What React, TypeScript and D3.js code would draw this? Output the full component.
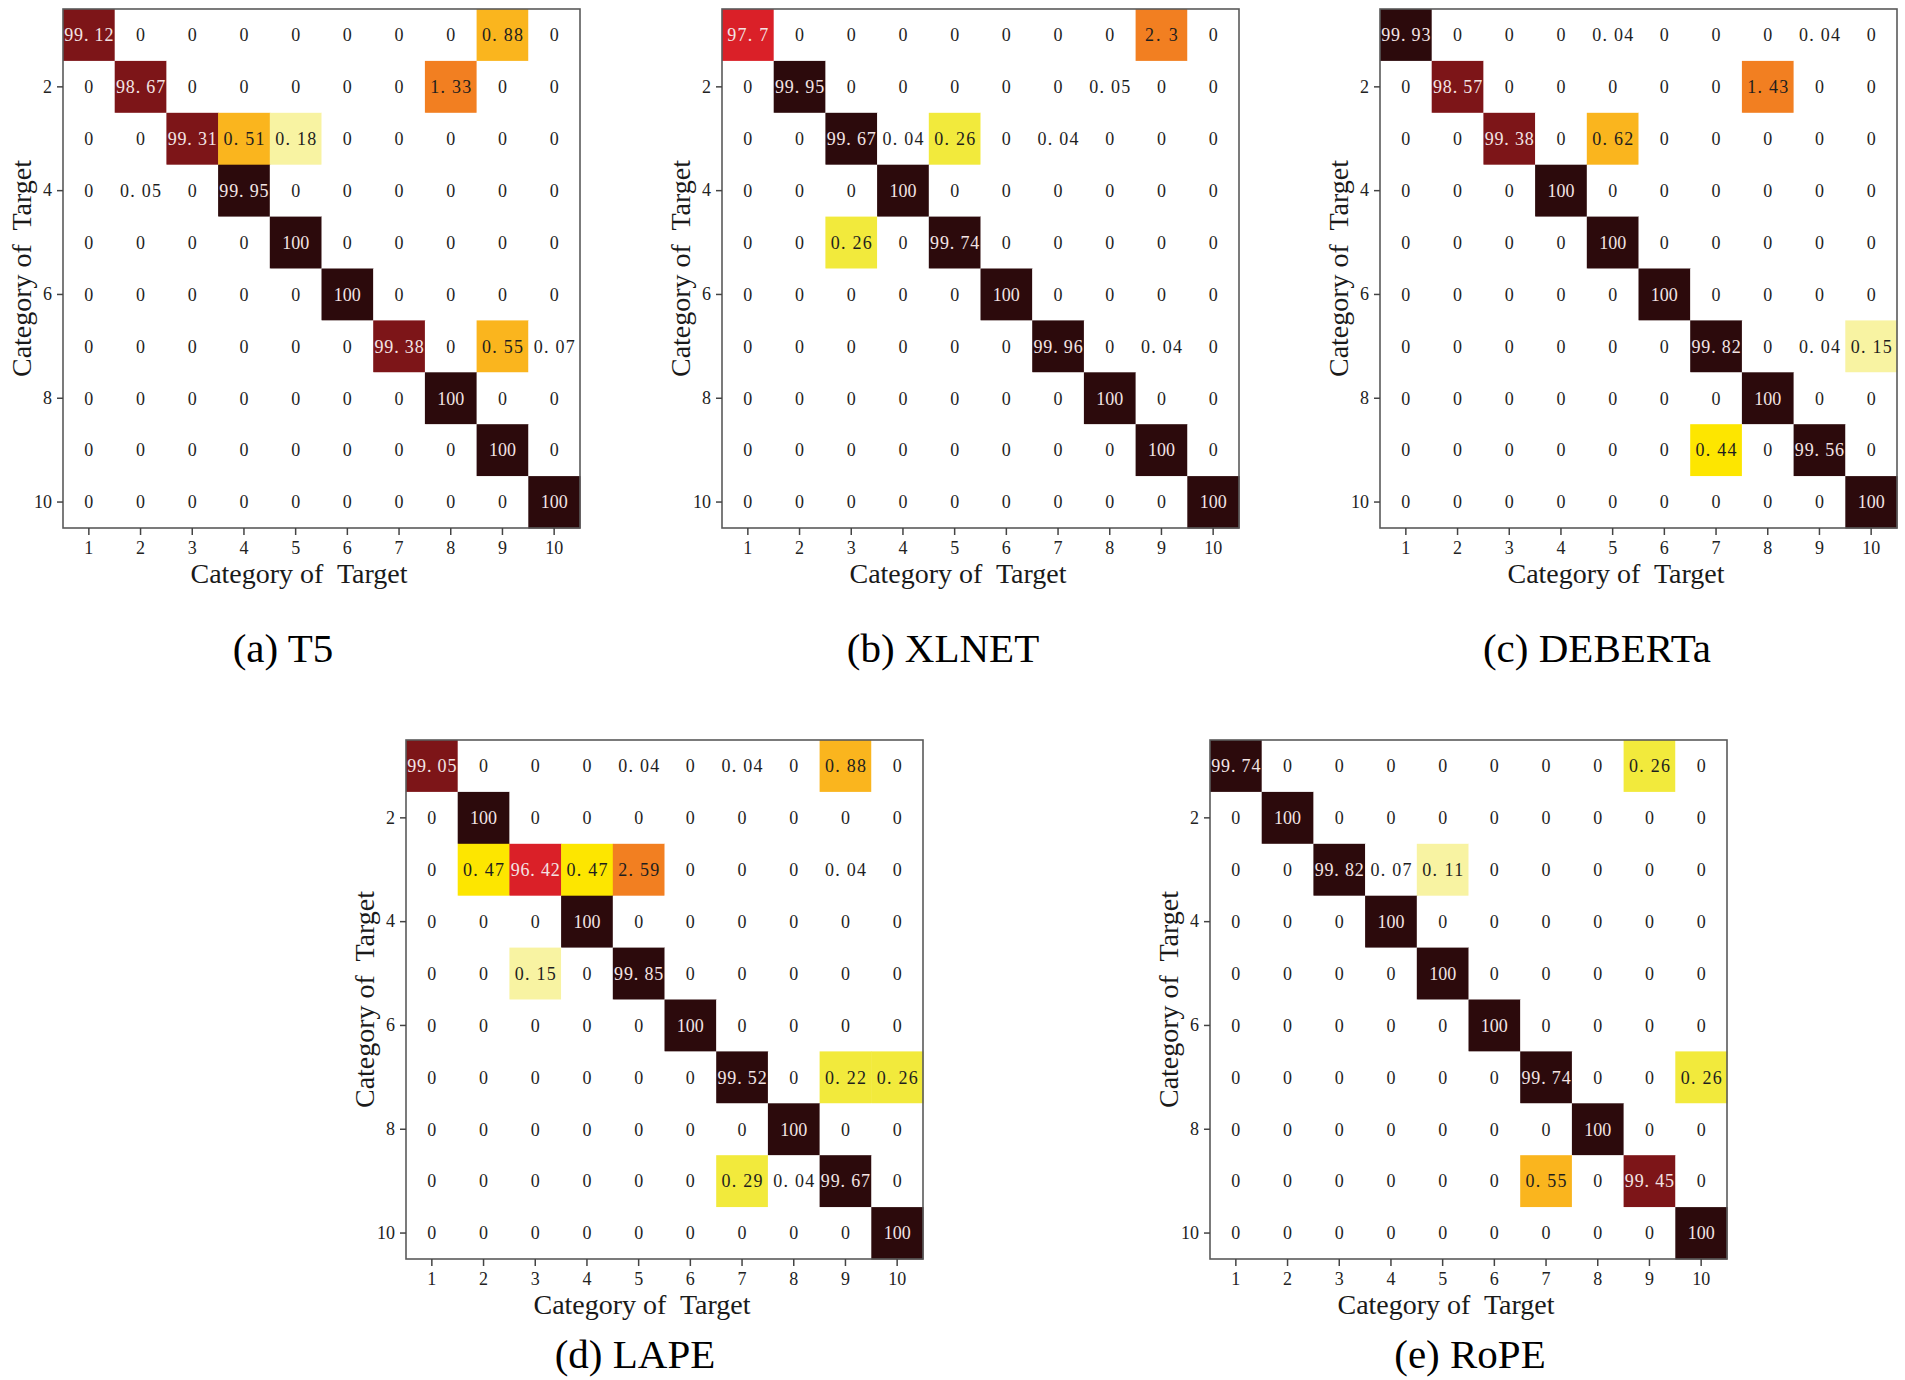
import React, { useEffect, useRef } from 'react';
import * as d3 from 'd3';

// categories / ticks
const categories = [1, 2, 3, 4, 5, 6, 7, 8, 9, 10];
const yTickValues = [2, 4, 6, 8, 10];
const xTitle = 'Category of  Target';
const yTitle = 'Category of  Target';

// confusion matrices (rows = true category, cols = predicted), %
const t5 = [
  [99.12, 0, 0, 0, 0, 0, 0, 0, 0.88, 0],
  [0, 98.67, 0, 0, 0, 0, 0, 1.33, 0, 0],
  [0, 0, 99.31, 0.51, 0.18, 0, 0, 0, 0, 0],
  [0, 0.05, 0, 99.95, 0, 0, 0, 0, 0, 0],
  [0, 0, 0, 0, 100, 0, 0, 0, 0, 0],
  [0, 0, 0, 0, 0, 100, 0, 0, 0, 0],
  [0, 0, 0, 0, 0, 0, 99.38, 0, 0.55, 0.07],
  [0, 0, 0, 0, 0, 0, 0, 100, 0, 0],
  [0, 0, 0, 0, 0, 0, 0, 0, 100, 0],
  [0, 0, 0, 0, 0, 0, 0, 0, 0, 100],
];

const xlnet = [
  [97.7, 0, 0, 0, 0, 0, 0, 0, 2.3, 0],
  [0, 99.95, 0, 0, 0, 0, 0, 0.05, 0, 0],
  [0, 0, 99.67, 0.04, 0.26, 0, 0.04, 0, 0, 0],
  [0, 0, 0, 100, 0, 0, 0, 0, 0, 0],
  [0, 0, 0.26, 0, 99.74, 0, 0, 0, 0, 0],
  [0, 0, 0, 0, 0, 100, 0, 0, 0, 0],
  [0, 0, 0, 0, 0, 0, 99.96, 0, 0.04, 0],
  [0, 0, 0, 0, 0, 0, 0, 100, 0, 0],
  [0, 0, 0, 0, 0, 0, 0, 0, 100, 0],
  [0, 0, 0, 0, 0, 0, 0, 0, 0, 100],
];

const deberta = [
  [99.93, 0, 0, 0, 0.04, 0, 0, 0, 0.04, 0],
  [0, 98.57, 0, 0, 0, 0, 0, 1.43, 0, 0],
  [0, 0, 99.38, 0, 0.62, 0, 0, 0, 0, 0],
  [0, 0, 0, 100, 0, 0, 0, 0, 0, 0],
  [0, 0, 0, 0, 100, 0, 0, 0, 0, 0],
  [0, 0, 0, 0, 0, 100, 0, 0, 0, 0],
  [0, 0, 0, 0, 0, 0, 99.82, 0, 0.04, 0.15],
  [0, 0, 0, 0, 0, 0, 0, 100, 0, 0],
  [0, 0, 0, 0, 0, 0, 0.44, 0, 99.56, 0],
  [0, 0, 0, 0, 0, 0, 0, 0, 0, 100],
];

const lape = [
  [99.05, 0, 0, 0, 0.04, 0, 0.04, 0, 0.88, 0],
  [0, 100, 0, 0, 0, 0, 0, 0, 0, 0],
  [0, 0.47, 96.42, 0.47, 2.59, 0, 0, 0, 0.04, 0],
  [0, 0, 0, 100, 0, 0, 0, 0, 0, 0],
  [0, 0, 0.15, 0, 99.85, 0, 0, 0, 0, 0],
  [0, 0, 0, 0, 0, 100, 0, 0, 0, 0],
  [0, 0, 0, 0, 0, 0, 99.52, 0, 0.22, 0.26],
  [0, 0, 0, 0, 0, 0, 0, 100, 0, 0],
  [0, 0, 0, 0, 0, 0, 0.29, 0.04, 99.67, 0],
  [0, 0, 0, 0, 0, 0, 0, 0, 0, 100],
];

const rope = [
  [99.74, 0, 0, 0, 0, 0, 0, 0, 0.26, 0],
  [0, 100, 0, 0, 0, 0, 0, 0, 0, 0],
  [0, 0, 99.82, 0.07, 0.11, 0, 0, 0, 0, 0],
  [0, 0, 0, 100, 0, 0, 0, 0, 0, 0],
  [0, 0, 0, 0, 100, 0, 0, 0, 0, 0],
  [0, 0, 0, 0, 0, 100, 0, 0, 0, 0],
  [0, 0, 0, 0, 0, 0, 99.74, 0, 0, 0.26],
  [0, 0, 0, 0, 0, 0, 0, 100, 0, 0],
  [0, 0, 0, 0, 0, 0, 0.55, 0, 99.45, 0],
  [0, 0, 0, 0, 0, 0, 0, 0, 0, 100],
];

const matrices = [t5, xlnet, deberta, lape, rope];
const captions = ['(a) T5', '(b) XLNET', '(c) DEBERTa', '(d) LAPE', '(e) RoPE'];

// colour bins (hot-like map)
const colorThresholds = [0.1, 0.2, 0.4, 0.5, 1, 3, 98, 99.5];
const colorRange = ['#ffffff', '#f8f3a2', '#f2ea3c', '#fde600', '#fab51e', '#f27f21', '#da2028', '#7d1518', '#2c0a0c'];

// panel placement
const panelLayout = [
  { left: 63, top: 9, capX: 283, capY: 662 },
  { left: 722, top: 9, capX: 943, capY: 662 },
  { left: 1380, top: 9, capX: 1597, capY: 662 },
  { left: 406, top: 740, capX: 635, capY: 1368 },
  { left: 1210, top: 740, capX: 1470, capY: 1368 },
];

const W = 517;
const H = 519;
const serif = '"Liberation Serif", "Times New Roman", serif';

export default function App() {
  const svgRef = useRef<SVGSVGElement>(null);

  useEffect(() => {
    if (!svgRef.current) return;
    const svg = d3.select(svgRef.current);
    svg.selectAll('*').remove();

    svg.append('rect').attr('width', 1905).attr('height', 1380).attr('fill', '#fff');

    const color = d3.scaleThreshold<number, string>().domain(colorThresholds).range(colorRange);
    const x = d3.scaleBand<number>().domain(categories).range([0, W]);
    const y = d3.scaleBand<number>().domain(categories).range([0, H]);
    const fs = 18;

    matrices.forEach((m, pi) => {
      const lay = panelLayout[pi];
      const g = svg.append('g').attr('transform', `translate(${lay.left},${lay.top})`);

      const cells = m.flatMap((row, ri) =>
        row.map((v, ci) => ({ r: categories[ri], c: categories[ci], v }))
      );

      g.selectAll('rect.cell')
        .data(cells)
        .join('rect')
        .attr('class', 'cell')
        .attr('x', d => x(d.c)!)
        .attr('y', d => y(d.r)!)
        .attr('width', x.bandwidth() + 0.5)
        .attr('height', y.bandwidth() + 0.5)
        .attr('fill', d => color(d.v));

      g.selectAll('text.lbl')
        .data(cells)
        .join('text')
        .attr('class', 'lbl')
        .attr('x', d => x(d.c)! + x.bandwidth() / 2)
        .attr('y', d => y(d.r)! + y.bandwidth() / 2)
        .attr('dy', '0.35em')
        .attr('text-anchor', 'middle')
        .attr('font-family', serif)
        .attr('font-size', fs)
        .attr('fill', d => (d.v >= 96 ? '#f3e4e4' : '#1e1e1e'))
        .style('white-space', 'pre')
        .each(function (d) {
          const s = String(d.v).replace('.', '. ');
          const t = d3.select(this).text(s);
          // decimals are drawn with a half-width gap after the point
          if (s.includes('.')) t.attr('textLength', s.length * 8.2).attr('lengthAdjust', 'spacing');
        });

      // frame
      g.append('rect')
        .attr('width', W)
        .attr('height', H)
        .attr('fill', 'none')
        .attr('stroke', '#5a5a5a')
        .attr('stroke-width', 1.6);

      const yAxis = g.append('g')
        .call(d3.axisLeft(y).tickValues(yTickValues).tickSize(6).tickPadding(5));
      const xAxis = g.append('g')
        .attr('transform', `translate(0,${H})`)
        .call(d3.axisBottom(x).tickSize(7).tickPadding(6));
      [yAxis, xAxis].forEach(a => {
        a.select('.domain').remove();
        a.selectAll('line').attr('stroke', '#444').attr('stroke-width', 1.5);
        a.selectAll('text').attr('font-family', serif).attr('font-size', 18).attr('fill', '#222');
      });

      g.append('text')
        .attr('x', 236)
        .attr('y', H + 55)
        .attr('text-anchor', 'middle')
        .attr('font-family', serif)
        .attr('font-size', 28)
        .attr('fill', '#1a1a1a')
        .style('white-space', 'pre')
        .text(xTitle);

      g.append('text')
        .attr('transform', `translate(-32,${H / 2}) rotate(-90)`)
        .attr('text-anchor', 'middle')
        .attr('font-family', serif)
        .attr('font-size', 28)
        .attr('fill', '#1a1a1a')
        .style('white-space', 'pre')
        .text(yTitle);

      svg.append('text')
        .attr('x', lay.capX)
        .attr('y', lay.capY)
        .attr('text-anchor', 'middle')
        .attr('font-family', serif)
        .attr('font-size', 41)
        .attr('fill', '#000')
        .text(captions[pi]);
    });
  }, []);

  return (
    <svg
      ref={svgRef}
      width={1905}
      height={1380}
      style={{ position: 'absolute', left: 0, top: 0 }}
    />
  );
}
